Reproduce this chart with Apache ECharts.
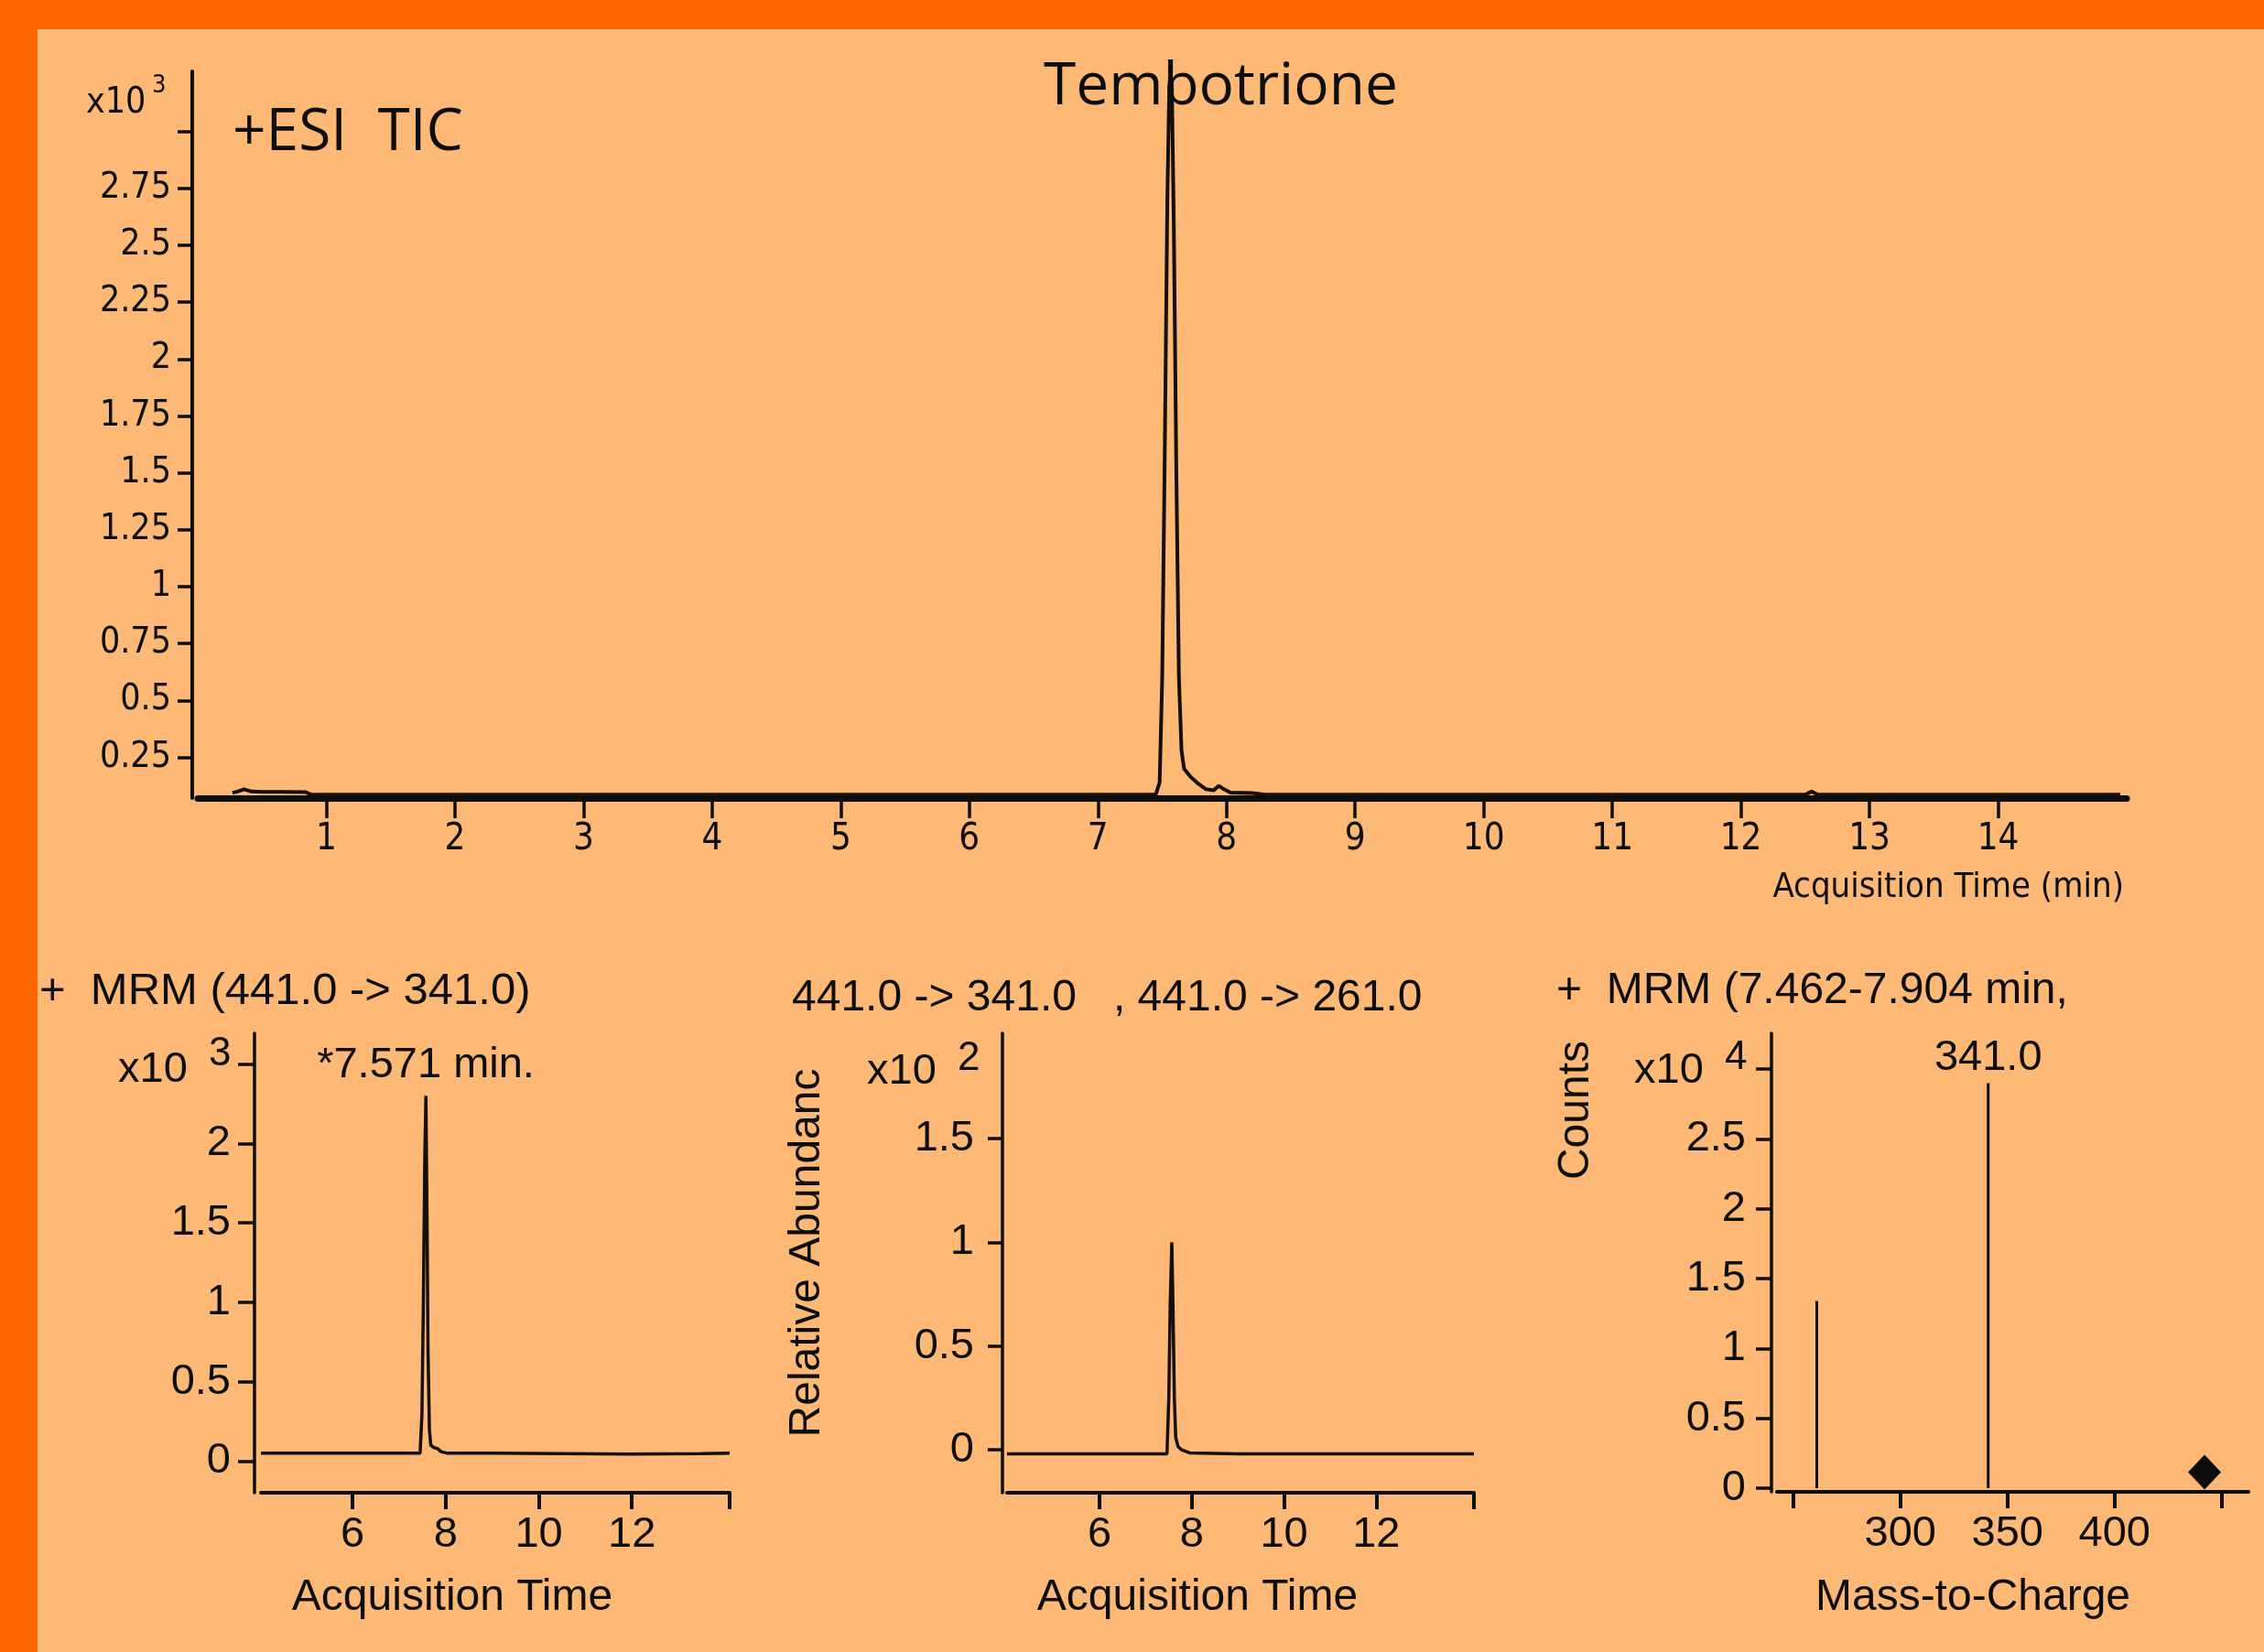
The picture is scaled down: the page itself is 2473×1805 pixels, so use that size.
<!DOCTYPE html>
<html>
<head>
<meta charset="utf-8">
<script src="https://cdn.jsdelivr.net/npm/echarts@6/dist/echarts.min.js"></script>
<style>
html,body{margin:0;padding:0;background:#FF6600;}
#c{width:2473px;height:1805px;}
</style>
</head>
<body>
<div id="c"></div>
<script>
// ---------- DATA ----------
// Top: +ESI TIC (counts x10^3 vs acquisition time, min)
const ticTime   = [0.27, 0.31, 0.36, 0.42, 0.5, 0.65, 0.84, 0.88, 1.5, 3, 5, 7, 7.45, 7.48, 7.50, 7.52, 7.54, 7.555, 7.565, 7.575, 7.59, 7.61, 7.63, 7.65, 7.67, 7.72, 7.78, 7.84, 7.9, 7.94, 7.98, 8.03, 8.2, 8.3, 10, 12.5, 12.55, 12.6, 14, 14.95];
const ticCounts = [0.095, 0.10, 0.11, 0.10, 0.098, 0.098, 0.097, 0.087, 0.086, 0.086, 0.086, 0.086, 0.087, 0.14, 0.6, 1.6, 2.7, 3.2, 3.26, 3.2, 2.6, 1.5, 0.6, 0.28, 0.2, 0.165, 0.135, 0.11, 0.105, 0.125, 0.11, 0.095, 0.093, 0.086, 0.086, 0.086, 0.1, 0.086, 0.086, 0.086];
const ticXTicks = [1, 2, 3, 4, 5, 6, 7, 8, 9, 10, 11, 12, 13, 14];
const ticYTicks = [0.25, 0.5, 0.75, 1, 1.25, 1.5, 1.75, 2, 2.25, 2.5, 2.75, 3];
const ticYLabels = [0.25, 0.5, 0.75, 1, 1.25, 1.5, 1.75, 2, 2.25, 2.5, 2.75];

// Bottom-left: + MRM (441.0 -> 341.0), counts x10^3
const mrmTime   = [4.03, 5, 6, 7, 7.45, 7.49, 7.52, 7.55, 7.575, 7.60, 7.62, 7.65, 7.68, 7.75, 7.82, 7.9, 8.04, 9, 10.5, 12, 13.5, 14.1];
const mrmCounts = [0.05, 0.05, 0.05, 0.05, 0.05, 0.3, 1.0, 1.9, 2.30, 1.5, 0.7, 0.2, 0.1, 0.085, 0.08, 0.06, 0.05, 0.05, 0.048, 0.045, 0.048, 0.05];
const mrmPeakRT = 7.571;
const mrmXTicks = [6, 8, 10, 12, 14.1];
const mrmXLabels = [6, 8, 10, 12];
const mrmYTicks = [0, 0.5, 1, 1.5, 2, 2.5];
const mrmYLabels = [0, 0.5, 1, 1.5, 2];

// Bottom-middle: 441.0 -> 341.0 , 441.0 -> 261.0 relative abundance x10^2
const ratioTime      = [3.99, 5, 6, 7, 7.46, 7.5, 7.53, 7.565, 7.59, 7.62, 7.65, 7.7, 7.78, 7.95, 9, 12, 14.12];
const ratioAbundance = [-0.02, -0.02, -0.02, -0.02, -0.02, 0.25, 0.7, 1.0, 0.7, 0.25, 0.06, 0.015, 0.0, -0.015, -0.02, -0.02, -0.02];
const ratioXTicks = [6, 8, 10, 12, 14.12];
const ratioXLabels = [6, 8, 10, 12];
const ratioYTicks = [0, 0.5, 1, 1.5];

// Bottom-right: product ion spectrum, counts x10^4 vs m/z
const specMz     = [261.0, 341.0];
const specCounts = [1.34, 2.90];
const precursorMz    = [442.0];
const precursorLevel = [0.115];
const specXTicks  = [250, 300, 350, 400, 450];
const specXLabels = [300, 350, 400];
const specYTicks  = [0, 0.5, 1, 1.5, 2, 2.5, 3];
const specYLabels = [0, 0.5, 1, 1.5, 2, 2.5];

// ---------- STYLE ----------
const INK = '#0d0d0d';
const TRACE = '#140e05';
const COND = "'DejaVu Sans Condensed', 'Liberation Sans Narrow', 'DejaVu Sans', sans-serif";
const ARIAL = "'Liberation Sans', Arial, sans-serif";
const OPEN = "'Open Sans', 'Noto Sans', sans-serif";

function xAx(grid, min, max, ticks, labels, o) {
  return {
    type: 'value', gridIndex: grid, min: min, max: max,
    splitLine: {show: false},
    axisLine: {show: true, onZero: false, lineStyle: {color: INK, width: o.lineW}},
    axisTick: {show: true, customValues: ticks, length: o.tickLen, lineStyle: {color: INK, width: o.tickW}},
    axisLabel: {show: true, customValues: labels, color: INK, fontFamily: o.font, fontSize: o.size, margin: o.margin}
  };
}
function yAx(grid, min, max, ticks, labels, o) {
  return {
    type: 'value', gridIndex: grid, min: min, max: max, offset: o.offset,
    splitLine: {show: false},
    axisLine: {show: true, onZero: false, lineStyle: {color: INK, width: o.lineW}},
    axisTick: {show: true, customValues: ticks, length: o.tickLen, lineStyle: {color: INK, width: o.tickW}},
    axisLabel: {show: true, customValues: labels, color: INK, fontFamily: o.font, fontSize: o.size, margin: o.margin}
  };
}
function txt(x, y, s, family, size, align, extra) {
  return Object.assign({
    type: 'text', x: x, y: y, z: 50,
    style: {text: s, font: size + 'px ' + family, fill: INK,
            align: align, verticalAlign: 'middle', textAlign: align, textVerticalAlign: 'middle'}
  }, extra || {});
}
const zip = (a, b) => a.map((v, i) => [v, b[i]]);
const maxIdx = arr => arr.indexOf(Math.max.apply(null, arr));

const botX = {lineW: 4, tickLen: 18, tickW: 4, font: ARIAL, size: 47, margin: 23};

const option = {
  backgroundColor: '#FF6600',
  animation: false,
  grid: [
    {left: 216, top: 78, width: 2107, height: 794},
    {left: 285, top: 1129, width: 512, height: 502},
    {left: 1100, top: 1129, width: 510, height: 502},
    {left: 1941, top: 1129, width: 515, height: 501}
  ],
  xAxis: [
    xAx(0, 0, 15, ticXTicks, ticXTicks, {lineW: 7, tickLen: 22, tickW: 3.5, font: COND, size: 40, margin: 26}),
    xAx(1, 4.03, 14.1, mrmXTicks, mrmXLabels, botX),
    xAx(2, 3.99, 14.12, ratioXTicks, ratioXLabels, botX),
    xAx(3, 242.4, 462.5, specXTicks, specXLabels, botX)
  ],
  yAxis: [
    yAx(0, 0.0712, 3.264, ticYTicks, ticYLabels, {offset: 6, lineW: 4, tickLen: 16, tickW: 3.5, font: COND, size: 39, margin: 23}),
    yAx(1, -0.1987, 2.693, mrmYTicks, mrmYLabels, {offset: 7, lineW: 3.5, tickLen: 18, tickW: 3.5, font: ARIAL, size: 47, margin: 26}),
    yAx(2, -0.207, 2.007, ratioYTicks, ratioYTicks, {offset: 5, lineW: 3.5, tickLen: 16, tickW: 3.5, font: ARIAL, size: 47, margin: 31}),
    yAx(3, -0.026, 3.257, specYTicks, specYLabels, {offset: 6, lineW: 3.5, tickLen: 17, tickW: 3.5, font: ARIAL, size: 47, margin: 28})
  ],
  series: [
    {type: 'line', xAxisIndex: 0, yAxisIndex: 0, data: zip(ticTime, ticCounts),
     symbol: 'none', lineStyle: {color: TRACE, width: 4}, z: 5},
    {type: 'line', xAxisIndex: 1, yAxisIndex: 1, data: zip(mrmTime, mrmCounts),
     symbol: 'none', lineStyle: {color: TRACE, width: 3.5}, z: 5},
    {type: 'scatter', xAxisIndex: 1, yAxisIndex: 1, symbolSize: 0,
     itemStyle: {opacity: 1},
     data: [[mrmPeakRT, mrmCounts[maxIdx(mrmCounts)]]],
     label: {show: true, position: 'top', distance: 10, color: INK, opacity: 1, fontFamily: ARIAL, fontSize: 47,
             formatter: p => '*' + p.value[0].toFixed(3) + ' min.'}},
    {type: 'line', xAxisIndex: 2, yAxisIndex: 2, data: zip(ratioTime, ratioAbundance),
     symbol: 'none', lineStyle: {color: TRACE, width: 3.5}, z: 5},
    {type: 'bar', xAxisIndex: 3, yAxisIndex: 3, barWidth: 3,
     itemStyle: {color: INK},
     data: specMz.map((m, i) => ({value: [m, specCounts[i]],
       label: {show: i === maxIdx(specCounts), position: 'top', distance: 4, color: INK,
               fontFamily: ARIAL, fontSize: 47, formatter: p => p.value[0].toFixed(1)}}))},
    {type: 'scatter', xAxisIndex: 3, yAxisIndex: 3, symbol: 'diamond', symbolSize: [36, 38],
     itemStyle: {color: INK, opacity: 1}, data: zip(precursorMz, precursorLevel)}
  ],
  graphic: [
    {type: 'rect', z: -100, shape: {x: 41, y: 32, width: 2432, height: 1773}, style: {fill: '#FFB977'}},
    txt(1140, 96, 'Tembotrione', OPEN, 64, 'left'),
    txt(254, 146, '+ESI  TIC', OPEN, 64, 'left'),
    txt(94, 113, 'x10', COND, 39, 'left'),
    txt(166, 94, '3', COND, 27, 'left'),
    txt(2320, 970, 'Acquisition Time (min)', COND, 38, 'right'),

    txt(43, 1083, '+  MRM (441.0 -> 341.0)', ARIAL, 49, 'left'),
    txt(865, 1091, '441.0 -> 341.0   , 441.0 -> 261.0', ARIAL, 48, 'left'),
    txt(1700, 1083, '+  MRM (7.462-7.904 min,', ARIAL, 48, 'left'),

    txt(129, 1169, 'x10', ARIAL, 47, 'left'),
    txt(228, 1152, '3', ARIAL, 44, 'left'),
    txt(947, 1171, 'x10', ARIAL, 47, 'left'),
    txt(1046, 1157, '2', ARIAL, 44, 'left'),
    txt(1785, 1170, 'x10', ARIAL, 47, 'left'),
    txt(1884, 1156, '4', ARIAL, 44, 'left'),

    txt(494, 1746, 'Acquisition Time', ARIAL, 48, 'center'),
    txt(1308, 1746, 'Acquisition Time', ARIAL, 48, 'center'),
    txt(2155, 1746, 'Mass-to-Charge', ARIAL, 48, 'center'),
    txt(882, 1369, 'Relative Abundanc', ARIAL, 48, 'center', {rotation: Math.PI / 2}),
    txt(1722, 1213, 'Counts', ARIAL, 48, 'center', {rotation: Math.PI / 2})
  ]
};

const chart = echarts.init(document.getElementById('c'), null, {renderer: 'canvas', width: 2473, height: 1805});
chart.setOption(option);
</script>
</body>
</html>
